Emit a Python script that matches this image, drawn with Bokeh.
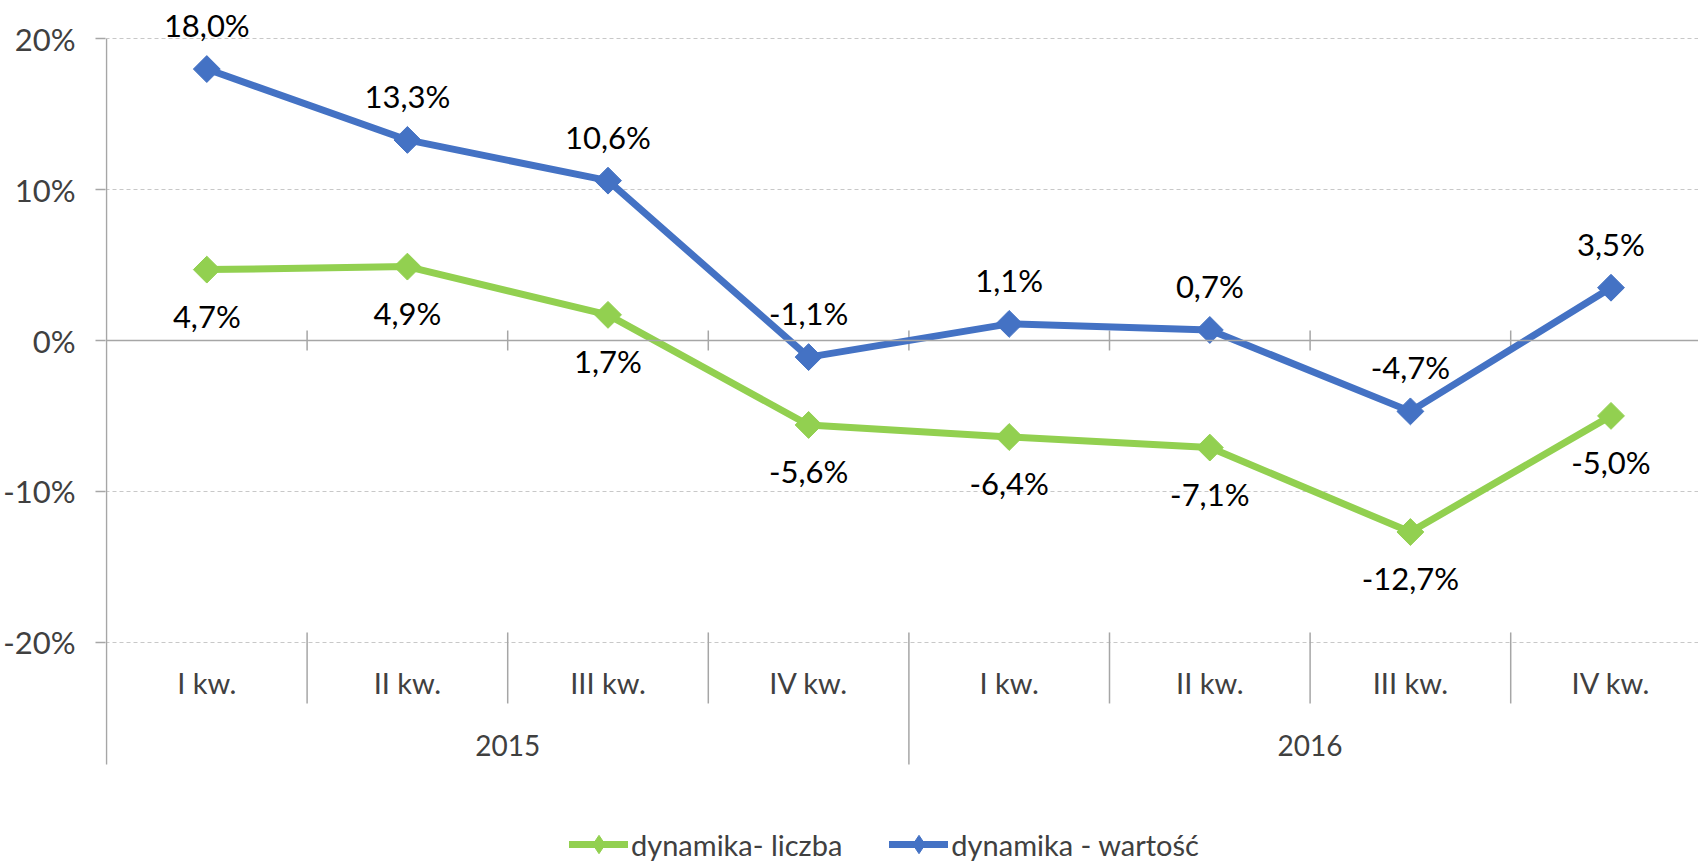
import numpy as np
from bokeh.plotting import figure
from bokeh.models import FixedTicker, Span, Legend, LegendItem, Range1d
from bokeh.embed import file_html
from bokeh.resources import INLINE
from bokeh.core.properties import value

# ---- data ----
quarters = ["I kw.", "II kw.", "III kw.", "IV kw.", "I kw.", "II kw.", "III kw.", "IV kw."]
years = ["2015", "2016"]
quarters_per_year = 4
liczba = [4.7, 4.9, 1.7, -5.6, -6.4, -7.1, -12.7, -5.0]
wartosc = [18.0, 13.3, 10.6, -1.1, 1.1, 0.7, -4.7, 3.5]
y_ticks = [-20, -10, 0, 10, 20]
series_names = ["dynamika- liczba", "dynamika - wartość"]

GREEN = "#92D050"
BLUE = "#4472C4"
AXIS = "#A6A6A6"
FONT = "Lato"

n = len(quarters)
xc = np.arange(n) + 0.5

W, H = 1698, 863
left = 105
px_per_cat = 200.6
x_start = -0.005
px_per_pct = 15.08
zero_px = 340

def fmt(v):
    return ("%.1f" % v).replace(".", ",") + "%"

p = figure(width=W, height=H,
           x_range=Range1d(x_start, x_start + (W - left) / px_per_cat),
           y_range=Range1d(-(H - zero_px) / px_per_pct, zero_px / px_per_pct),
           output_backend="svg", toolbar_location=None,
           x_axis_location=None,
           min_border_left=left, min_border_right=0,
           min_border_top=0, min_border_bottom=0,
           outline_line_color=None)

# y axis
p.yaxis.ticker = FixedTicker(ticks=y_ticks)
p.yaxis.major_label_overrides = {t: "%d%%" % t for t in y_ticks}
p.yaxis.axis_line_color = None
p.yaxis.major_tick_line_color = AXIS
p.yaxis.major_tick_line_width = 1.5
p.yaxis.major_tick_out = 10
p.yaxis.major_tick_in = 0
p.yaxis.minor_tick_line_color = None
p.yaxis.major_label_text_font = FONT
p.yaxis.major_label_text_font_size = "31px"
p.yaxis.major_label_text_color = "#404040"
p.yaxis.major_label_standoff = 20

# grid
p.xgrid.visible = False
p.ygrid.ticker = FixedTicker(ticks=[t for t in y_ticks if t != 0])
p.ygrid.grid_line_color = "#C8C8C8"
p.ygrid.grid_line_dash = "4 3"
p.ygrid.grid_line_width = 1

# y axis line (extends down through category area)
y_top = max(y_ticks)
y_axis_bottom = -28.12
sep_top = -19.36
sep_bottom = -24.07
p.segment(x0=[0], y0=[y_top], x1=[0], y1=[y_axis_bottom], line_color=AXIS, line_width=1.5)

# zero line with crossing ticks
p.add_layout(Span(location=0, dimension="width", line_color=AXIS, line_width=1.5))
bounds = np.arange(1, n)
p.scatter(x=bounds, y=np.zeros(len(bounds)), marker="dash", angle=np.pi / 2, size=20,
          line_color=AXIS, line_width=1.5)

# category separators
q_bounds = [b for b in bounds if b % quarters_per_year != 0]
y_bounds = [b for b in bounds if b % quarters_per_year == 0]
p.segment(x0=q_bounds, y0=[sep_top] * len(q_bounds), x1=q_bounds, y1=[sep_bottom] * len(q_bounds),
          line_color=AXIS, line_width=1.5)
p.segment(x0=y_bounds, y0=[sep_top] * len(y_bounds), x1=y_bounds, y1=[y_axis_bottom] * len(y_bounds),
          line_color=AXIS, line_width=1.5)

# category labels
p.text(x=xc, y=[-22.68] * n, text=quarters, text_align="center", text_baseline="middle",
       text_font=value(FONT), text_font_size="29px", text_color="#404040")
year_x = [np.mean(xc[i * quarters_per_year:(i + 1) * quarters_per_year]) for i in range(len(years))]
p.text(x=year_x, y=[-26.86] * len(years), text=years, text_align="center", text_baseline="middle",
       text_font=value(FONT), text_font_size="28px", text_color="#404040")

# series
gl = p.line(xc, liczba, line_color=GREEN, line_width=7, line_join="round", line_cap="round")
p.scatter(xc, liczba, marker="square", angle=np.pi / 4, size=19, fill_color=GREEN, line_color=GREEN)
bl = p.line(xc, wartosc, line_color=BLUE, line_width=7, line_join="round", line_cap="round")
p.scatter(xc, wartosc, marker="square", angle=np.pi / 4, size=19, fill_color=BLUE, line_color=BLUE)

# legend proxies: zero-size diamonds (legend sizes markers from its glyph box)
gs_leg = p.scatter(xc, liczba, marker="diamond", size=0, fill_color=GREEN, line_color=GREEN)
bs_leg = p.scatter(xc, wartosc, marker="diamond", size=0, fill_color=BLUE, line_color=BLUE)

# data labels
p.text(x=xc, y=liczba, text=[fmt(v) for v in liczba], y_offset=46,
       text_align="center", text_baseline="middle",
       text_font=value(FONT), text_font_size="31px", text_color="black")
p.text(x=xc, y=wartosc, text=[fmt(v) for v in wartosc], y_offset=-44,
       text_align="center", text_baseline="middle",
       text_font=value(FONT), text_font_size="31px", text_color="black")

legend = Legend(items=[LegendItem(label=series_names[0], renderers=[gl, gs_leg]),
                       LegendItem(label=series_names[1], renderers=[bl, bs_leg])],
                orientation="horizontal", location=(464, -4),
                glyph_width=59, glyph_height=46, label_standoff=3, spacing=47,
                padding=0, margin=0, border_line_color=None, background_fill_alpha=0,
                label_text_font=FONT, label_text_font_size="29px", label_text_color="#404040")
p.add_layout(legend)

open("out.html", "w").write(file_html(p, INLINE))
